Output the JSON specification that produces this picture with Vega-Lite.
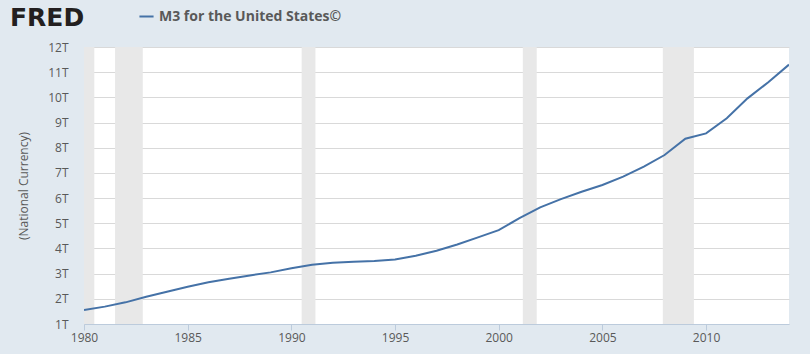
{
  "$schema": "https://vega.github.io/schema/vega-lite/v6.json",
  "width": 705,
  "height": 277,
  "autosize": {"type": "none"},
  "padding": {"left": 84, "top": 47, "right": 21, "bottom": 30},
  "background": "#e1e9f0",
  "view": {"fill": "white", "stroke": null},
  "title": {
    "text": "FRED",
    "anchor": "start",
    "frame": "group",
    "dx": -74,
    "offset": 0,
    "dy": 23,
    "font": "DejaVu Sans",
    "fontSize": 25,
    "fontWeight": 900,
    "color": "#231f20"
  },
  "config": {
    "font": "Open Sans",
    "axis": {"labelFont": "Open Sans", "titleFont": "Open Sans"}
  },
  "datasets": {
    "recessions": [
      {"start": "1980-01-01", "end": "1980-07-01"},
      {"start": "1981-07-01", "end": "1982-11-01"},
      {"start": "1990-07-01", "end": "1991-03-01"},
      {"start": "2001-03-01", "end": "2001-11-01"},
      {"start": "2007-12-01", "end": "2009-06-01"}
    ],
    "m3": [
      {"date": "1980-01-01", "value": 1.556},
      {"date": "1981-01-01", "value": 1.69},
      {"date": "1982-01-01", "value": 1.86},
      {"date": "1983-01-01", "value": 2.08},
      {"date": "1984-01-01", "value": 2.28},
      {"date": "1985-01-01", "value": 2.48},
      {"date": "1986-01-01", "value": 2.66},
      {"date": "1987-01-01", "value": 2.8},
      {"date": "1988-01-01", "value": 2.93},
      {"date": "1989-01-01", "value": 3.05},
      {"date": "1990-01-01", "value": 3.21},
      {"date": "1991-01-01", "value": 3.35},
      {"date": "1992-01-01", "value": 3.43},
      {"date": "1993-01-01", "value": 3.47},
      {"date": "1994-01-01", "value": 3.5},
      {"date": "1995-01-01", "value": 3.56},
      {"date": "1996-01-01", "value": 3.71},
      {"date": "1997-01-01", "value": 3.91},
      {"date": "1998-01-01", "value": 4.16},
      {"date": "1999-01-01", "value": 4.44},
      {"date": "2000-01-01", "value": 4.73},
      {"date": "2001-01-01", "value": 5.2},
      {"date": "2002-01-01", "value": 5.63},
      {"date": "2003-01-01", "value": 5.96},
      {"date": "2004-01-01", "value": 6.25},
      {"date": "2005-01-01", "value": 6.52},
      {"date": "2006-01-01", "value": 6.85},
      {"date": "2007-01-01", "value": 7.25},
      {"date": "2008-01-01", "value": 7.71},
      {"date": "2009-01-01", "value": 8.36},
      {"date": "2010-01-01", "value": 8.57},
      {"date": "2011-01-01", "value": 9.17},
      {"date": "2012-01-01", "value": 9.96},
      {"date": "2013-01-01", "value": 10.6},
      {"date": "2014-01-01", "value": 11.3}
    ]
  },
  "layer": [
    {
      "data": {"name": "recessions"},
      "mark": {"type": "rect", "color": "#e8e8e8"},
      "encoding": {
        "x": {"field": "start", "type": "temporal", "scale": {"type": "utc", "domain": ["1980-01-01", "2014-01-01"]}},
        "x2": {"field": "end"}
      }
    },
    {
      "data": {"name": "m3"},
      "mark": {"type": "line", "strokeWidth": 2, "clip": true},
      "encoding": {
        "x": {
          "field": "date",
          "type": "temporal",
          "scale": {"type": "utc", "domain": ["1980-01-01", "2014-01-01"]},
          "axis": {
            "title": null,
            "format": "%Y",
            "formatType": "utc",
            "values": [
              {"year": 1980, "month": 1, "date": 1, "utc": true},
              {"year": 1985, "month": 1, "date": 1, "utc": true},
              {"year": 1990, "month": 1, "date": 1, "utc": true},
              {"year": 1995, "month": 1, "date": 1, "utc": true},
              {"year": 2000, "month": 1, "date": 1, "utc": true},
              {"year": 2005, "month": 1, "date": 1, "utc": true},
              {"year": 2010, "month": 1, "date": 1, "utc": true}
            ],
            "grid": false,
            "domainColor": "#bccbdc",
            "domainWidth": 1,
            "tickColor": "#bccbdc",
            "tickSize": 6,
            "labelColor": "#595959",
            "labelFontSize": 12,
            "labelPadding": 2,
            "labelFlush": false
          }
        },
        "y": {
          "field": "value",
          "type": "quantitative",
          "scale": {"domain": [1, 12], "nice": false, "zero": false},
          "axis": {
            "title": "(National Currency)",
            "titleColor": "#595959",
            "titleFontSize": 12,
            "titleFontWeight": "normal",
            "titlePadding": 17,
            "values": [1, 2, 3, 4, 5, 6, 7, 8, 9, 10, 11, 12],
            "labelExpr": "datum.value + 'T'",
            "labelColor": "#595959",
            "labelFontSize": 12,
            "labelPadding": 16,
            "domain": false,
            "ticks": false,
            "gridColor": "#d9d9d9",
            "gridWidth": 1
          }
        },
        "color": {
          "datum": "M3 for the United States©",
          "scale": {"range": ["#4572a7"]},
          "legend": {
            "title": null,
            "orient": "none",
            "legendX": 54,
            "legendY": -39,
            "symbolType": "stroke",
            "symbolStrokeWidth": 2,
            "symbolSize": 200,
            "labelFontSize": 14,
            "labelFontWeight": "bold",
            "labelColor": "#595959",
            "labelFont": "Open Sans",
            "labelLimit": 400
          }
        }
      }
    }
  ]
}
